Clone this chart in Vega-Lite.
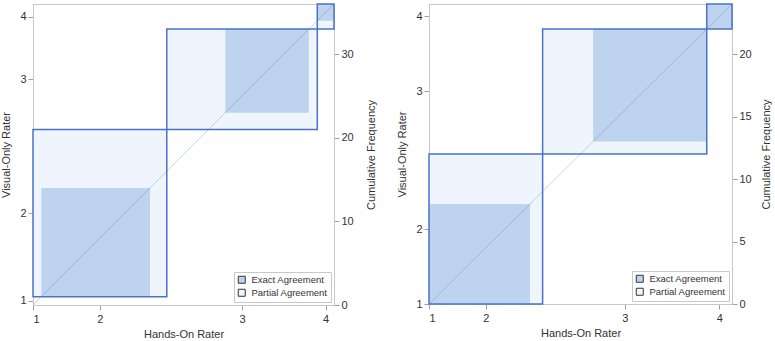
{
  "$schema": "https://vega.github.io/schema/vega-lite/v6.json",
  "padding": {"left": 0, "top": 2, "right": 0, "bottom": 0},
  "spacing": 19,
  "config": {
    "font": "Liberation Sans",
    "view": {"stroke": "#c8c8c8", "strokeWidth": 1},
    "axis": {"grid": false, "domainColor": "#c8c8c8", "tickColor": "#a0a0a0", "tickSize": 5, "labelFontSize": 11, "labelColor": "#333333", "titleFontSize": 11, "titleFontWeight": "normal", "titleColor": "#333333", "labelPadding": 2},
    "axisX": {"labelPadding": 3, "titlePadding": 4},
    "legend": {"orient": "bottom-right", "offset": 3, "strokeColor": "#c8c8c8", "padding": 3, "fillColor": "white", "symbolType": "square", "symbolSize": 49, "symbolStrokeColor": "#333333", "symbolStrokeWidth": 1, "labelFontSize": 9.5, "labelColor": "#333333", "rowPadding": 1, "labelOffset": 5}
  },
  "resolve": {"scale": {"x": "independent", "y": "independent", "fill": "independent"}, "legend": {"fill": "independent"}},
  "hconcat": [
    {
      "width": 301,
      "height": 301,
      "data": {"values": [
        {"k": "Partial Agreement", "x": 0, "x2": 16, "y": 1, "y2": 21},
        {"k": "Partial Agreement", "x": 16, "x2": 34, "y": 21, "y2": 33},
        {"k": "Partial Agreement", "x": 34, "x2": 36, "y": 33, "y2": 36},
        {"k": "Exact Agreement", "x": 1, "x2": 14, "y": 1, "y2": 14},
        {"k": "Exact Agreement", "x": 23, "x2": 33, "y": 23, "y2": 33},
        {"k": "Exact Agreement", "x": 34, "x2": 36, "y": 34, "y2": 36},
        {"k": "outline", "x": 0, "x2": 16, "y": 1, "y2": 21},
        {"k": "outline", "x": 16, "x2": 34, "y": 21, "y2": 33},
        {"k": "outline", "x": 34, "x2": 36, "y": 33, "y2": 36},
        {"k": "diag", "x": 0, "x2": 36, "y": 0, "y2": 36}
      ]},
      "layer": [
        {
          "transform": [{"filter": "datum.k == 'Partial Agreement' || datum.k == 'Exact Agreement'"}],
          "mark": {"type": "rect", "strokeWidth": 0},
          "encoding": {
            "x": {"field": "x", "type": "quantitative", "scale": {"domain": [0, 36], "nice": false, "zero": false},
                  "axis": {"title": "Hands-On Rater", "values": [0, 8, 25, 35], "labelExpr": "datum.value == 0 ? '1' : datum.value == 8 ? '2' : datum.value == 25 ? '3' : '4'"}},
            "x2": {"field": "x2"},
            "y": {"field": "y", "type": "quantitative", "scale": {"domain": [0, 36], "nice": false, "zero": false},
                  "axis": {"title": "Visual-Only Rater", "orient": "left", "values": [0.5, 11, 27, 34.5], "labelExpr": "datum.value == 0.5 ? '1' : datum.value == 11 ? '2' : datum.value == 27 ? '3' : '4'", "titlePadding": 8}},
            "y2": {"field": "y2"},
            "fill": {"field": "k", "type": "nominal", "scale": {"domain": ["Exact Agreement", "Partial Agreement"], "range": ["#bed3ee", "#eef5fd"]}, "legend": {"title": null}}
          }
        },
        {
          "transform": [{"filter": "datum.k == 'diag'"}],
          "mark": {"type": "rule", "color": "#4a72cc", "opacity": 0.3, "strokeWidth": 1},
          "encoding": {
            "x": {"field": "x", "type": "quantitative", "scale": {"domain": [0, 36], "nice": false, "zero": false}},
            "x2": {"field": "x2"},
            "y": {"field": "y", "type": "quantitative", "scale": {"domain": [0, 36], "nice": false, "zero": false}, "axis": null},
            "y2": {"field": "y2"}
          }
        },
        {
          "transform": [{"filter": "datum.k == 'outline'"}],
          "mark": {"type": "rect", "filled": false, "stroke": "#4a72cc", "strokeWidth": 1.5},
          "encoding": {
            "x": {"field": "x", "type": "quantitative", "scale": {"domain": [0, 36], "nice": false, "zero": false}},
            "x2": {"field": "x2"},
            "y": {"field": "y", "type": "quantitative", "scale": {"domain": [0, 36], "nice": false, "zero": false},
                  "axis": {"title": "Cumulative Frequency", "orient": "right", "values": [0, 10, 20, 30], "titleAngle": 270, "titlePadding": 23}},
            "y2": {"field": "y2"}
          }
        }
      ],
      "resolve": {"scale": {"y": "independent"}}
    },
    {
      "width": 303,
      "height": 300,
      "data": {"values": [
        {"k": "Partial Agreement", "x": 0, "x2": 9, "y": 0, "y2": 12},
        {"k": "Partial Agreement", "x": 9, "x2": 22, "y": 12, "y2": 22},
        {"k": "Partial Agreement", "x": 22, "x2": 24, "y": 22, "y2": 24},
        {"k": "Exact Agreement", "x": 0, "x2": 8, "y": 0, "y2": 8},
        {"k": "Exact Agreement", "x": 13, "x2": 22, "y": 13, "y2": 22},
        {"k": "Exact Agreement", "x": 22, "x2": 24, "y": 22, "y2": 24},
        {"k": "outline", "x": 0, "x2": 9, "y": 0, "y2": 12},
        {"k": "outline", "x": 9, "x2": 22, "y": 12, "y2": 22},
        {"k": "outline", "x": 22, "x2": 24, "y": 22, "y2": 24},
        {"k": "diag", "x": 0, "x2": 24, "y": 0, "y2": 24}
      ]},
      "layer": [
        {
          "transform": [{"filter": "datum.k == 'Partial Agreement' || datum.k == 'Exact Agreement'"}],
          "mark": {"type": "rect", "strokeWidth": 0},
          "encoding": {
            "x": {"field": "x", "type": "quantitative", "scale": {"domain": [0, 24], "nice": false, "zero": false},
                  "axis": {"title": "Hands-On Rater", "values": [0, 4.5, 15.5, 23], "labelExpr": "datum.value == 0 ? '1' : datum.value == 4.5 ? '2' : datum.value == 15.5 ? '3' : '4'"}},
            "x2": {"field": "x2"},
            "y": {"field": "y", "type": "quantitative", "scale": {"domain": [0, 24], "nice": false, "zero": false},
                  "axis": {"title": "Visual-Only Rater", "orient": "left", "values": [0, 6, 17, 23], "labelExpr": "datum.value == 0 ? '1' : datum.value == 6 ? '2' : datum.value == 17 ? '3' : '4'", "titlePadding": 8}},
            "y2": {"field": "y2"},
            "fill": {"field": "k", "type": "nominal", "scale": {"domain": ["Exact Agreement", "Partial Agreement"], "range": ["#bed3ee", "#eef5fd"]}, "legend": {"title": null}}
          }
        },
        {
          "transform": [{"filter": "datum.k == 'diag'"}],
          "mark": {"type": "rule", "color": "#4a72cc", "opacity": 0.3, "strokeWidth": 1},
          "encoding": {
            "x": {"field": "x", "type": "quantitative", "scale": {"domain": [0, 24], "nice": false, "zero": false}},
            "x2": {"field": "x2"},
            "y": {"field": "y", "type": "quantitative", "scale": {"domain": [0, 24], "nice": false, "zero": false}, "axis": null},
            "y2": {"field": "y2"}
          }
        },
        {
          "transform": [{"filter": "datum.k == 'outline'"}],
          "mark": {"type": "rect", "filled": false, "stroke": "#4a72cc", "strokeWidth": 1.5},
          "encoding": {
            "x": {"field": "x", "type": "quantitative", "scale": {"domain": [0, 24], "nice": false, "zero": false}},
            "x2": {"field": "x2"},
            "y": {"field": "y", "type": "quantitative", "scale": {"domain": [0, 24], "nice": false, "zero": false},
                  "axis": {"title": "Cumulative Frequency", "orient": "right", "values": [0, 5, 10, 15, 20], "titleAngle": 270, "titlePadding": 20}},
            "y2": {"field": "y2"}
          }
        }
      ],
      "resolve": {"scale": {"y": "independent"}}
    }
  ]
}
